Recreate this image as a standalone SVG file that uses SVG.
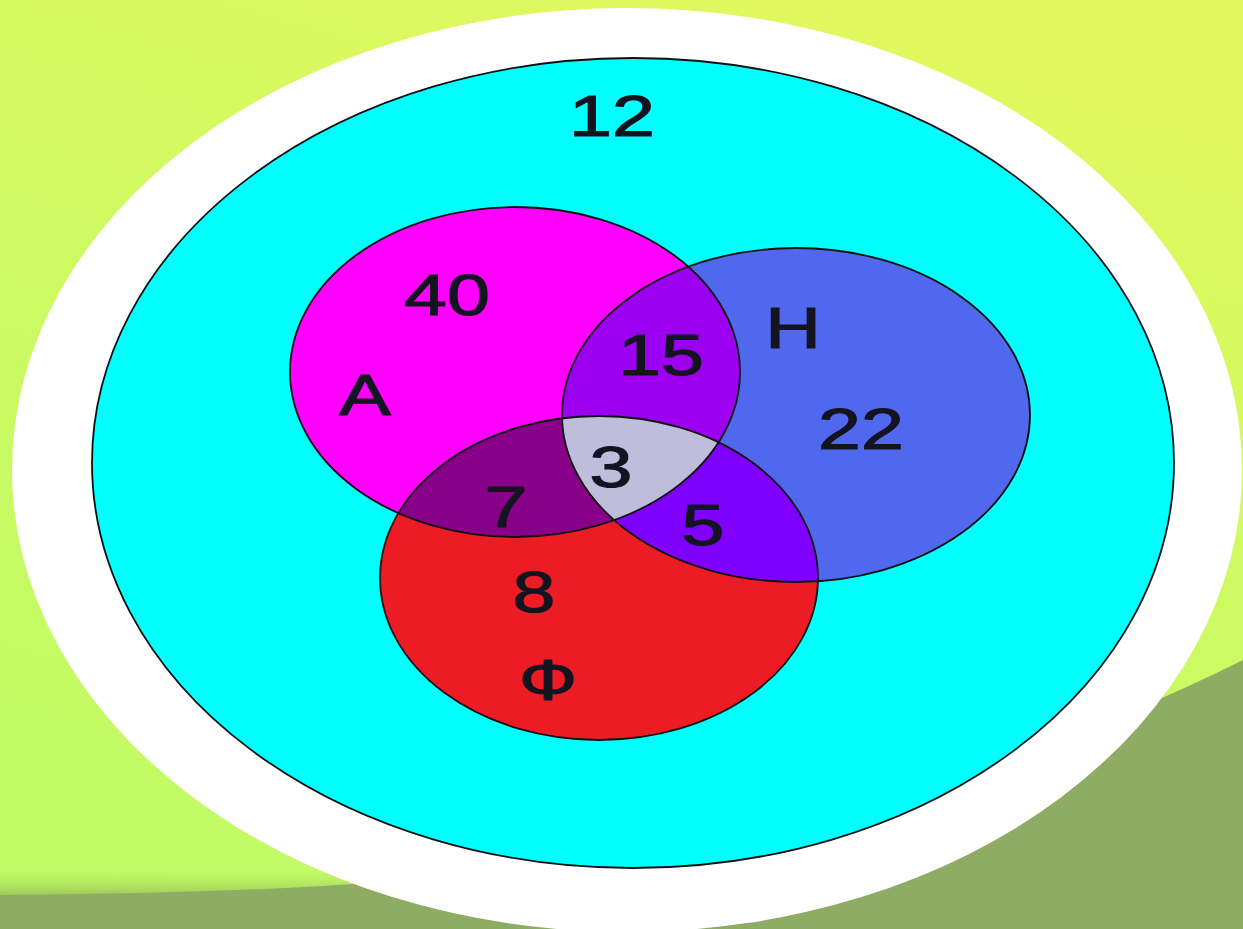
<svg xmlns="http://www.w3.org/2000/svg" width="1243" height="929" viewBox="0 0 1243 929">
  <defs>
    <linearGradient id="bg" x1="0.6" y1="0" x2="0.2" y2="1">
      <stop offset="0" stop-color="#e0f85e"/>
      <stop offset="0.5" stop-color="#cbfa62"/>
      <stop offset="1" stop-color="#c0fb66"/>
    </linearGradient>
    <linearGradient id="shadow" x1="0" y1="0" x2="0" y2="1">
      <stop offset="0" stop-color="#b0e060" stop-opacity="0"/>
      <stop offset="1" stop-color="#8fb055" stop-opacity="0.7"/>
    </linearGradient>
    <ellipse id="eA" cx="515" cy="372" rx="225" ry="165"/>
    <ellipse id="eH" cx="796" cy="415" rx="234" ry="167"/>
    <ellipse id="eF" cx="599" cy="578" rx="219" ry="162"/>
    <clipPath id="cA"><use href="#eA"/></clipPath>
    <clipPath id="cH"><use href="#eH"/></clipPath>
    <clipPath id="cF"><use href="#eF"/></clipPath>
    <style>
      .lbl { font-family: "Liberation Sans", Arial, sans-serif; font-size: 58px; fill: #141420; stroke: #141420; stroke-width: 1.2; text-anchor: middle; }
      .edge { fill: none; stroke: #111; stroke-width: 1.8; }
    </style>
  </defs>

  <!-- background -->
  <rect x="0" y="0" width="1243" height="929" fill="url(#bg)"/>
  <rect x="0" y="870" width="1243" height="26" fill="url(#shadow)"/>
  <path d="M0,895 C420,892 820,870 1243,660 L1243,929 L0,929 Z" fill="#8fac64"/>

  <!-- frame -->
  <ellipse id="white-frame" cx="627" cy="470" rx="615" ry="462" fill="#ffffff"/>

  <g id="universe">
    <ellipse cx="633" cy="463" rx="541" ry="405" class="edge" style="fill:#00ffff"/>
  </g>

  <g id="set-A">
    <use href="#eA" fill="#ff00ff"/>
  </g>
  <g id="set-H">
    <use href="#eH" fill="#5068ee"/>
  </g>
  <g id="set-F">
    <use href="#eF" fill="#ed1c24"/>
  </g>

  <g id="A-and-H" clip-path="url(#cH)">
    <use href="#eA" fill="#9b00f0"/>
  </g>
  <g id="A-and-F" clip-path="url(#cF)">
    <use href="#eA" fill="#880088"/>
  </g>
  <g id="H-and-F" clip-path="url(#cF)">
    <use href="#eH" fill="#7f00ff"/>
  </g>
  <g id="A-H-F" clip-path="url(#cF)">
    <g clip-path="url(#cH)">
      <use href="#eA" fill="#bebedc"/>
    </g>
  </g>

  <g id="outlines">
    <use href="#eA" class="edge"/>
    <use href="#eH" class="edge"/>
    <use href="#eF" class="edge"/>
  </g>

  <g id="labels">
    <text class="lbl" transform="translate(612,136) scale(1.33,1)">12</text>
    <text class="lbl" transform="translate(447,315) scale(1.33,1)">40</text>
    <text class="lbl" transform="translate(365,415) scale(1.33,1)">A</text>
    <text class="lbl" transform="translate(661,375) scale(1.33,1)">15</text>
    <text class="lbl" transform="translate(793,348) scale(1.33,1)">H</text>
    <text class="lbl" transform="translate(861,449) scale(1.33,1)">22</text>
    <text class="lbl" transform="translate(611,487) scale(1.33,1)">3</text>
    <text class="lbl" transform="translate(506,527) scale(1.33,1)">7</text>
    <text class="lbl" transform="translate(703,545) scale(1.33,1)">5</text>
    <text class="lbl" transform="translate(534,612) scale(1.33,1)">8</text>
    <text class="lbl" transform="translate(548,700) scale(1.33,1)">Ф</text>
  </g>
</svg>
